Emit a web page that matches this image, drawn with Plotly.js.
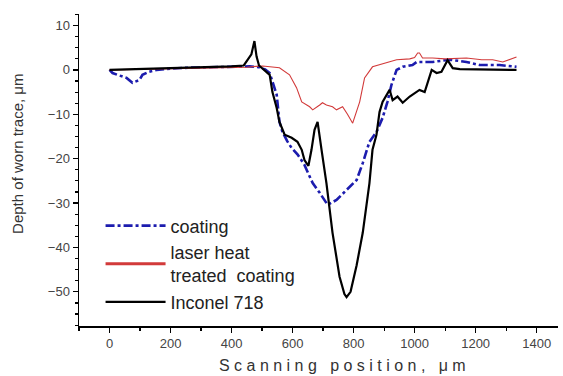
<!DOCTYPE html>
<html>
<head>
<meta charset="utf-8">
<script src="https://cdn.plot.ly/plotly-3.0.1.min.js"></script>
<style>html,body{margin:0;padding:0;background:#fff;}#chart{width:563px;height:376px;}</style>
</head>
<body>
<div id="chart"></div>
<script>
const coatingX = [0, 10, 30, 56, 75, 98, 108, 130, 154, 200, 260, 320, 370, 420, 459, 490, 510, 525, 534, 548, 557, 567, 582, 597, 616, 639, 646, 666, 689, 715, 744, 777, 810, 830, 843, 852, 875, 895, 911, 924, 941, 961, 993, 1007, 1059, 1115, 1170, 1213, 1279, 1334];
const coatingY = [0, -0.7, -1.2, -1.8, -2.9, -2.3, -1.1, -0.4, 0, 0.3, 0.5, 0.6, 0.7, 0.8, 0.8, 0.6, 0.1, -0.7, -2.7, -5.6, -11.7, -14, -16, -17.6, -19, -21.4, -22.5, -25.5, -27.7, -30.4, -29.3, -27, -24.8, -21, -18, -16.2, -14, -10.8, -7.2, -3.4, 0, 0.7, 1.1, 1.8, 1.8, 2.3, 1.8, 1.1, 1.1, 0.7];

const laserX = [0, 100, 200, 300, 400, 450, 480, 502, 557, 590, 613, 630, 656, 666, 689, 698, 711, 731, 744, 764, 780, 797, 820, 836, 862, 908, 941, 984, 1000, 1010, 1016, 1026, 1059, 1100, 1170, 1220, 1256, 1289, 1334];
const laserY = [0, 0.2, 0.3, 0.4, 0.5, 0.6, 0.8, 0.9, 0.5, -1.1, -4, -7.2, -8.3, -9, -7.9, -7.4, -7.9, -8.3, -9, -8.3, -10, -12, -7.2, -1.8, 0.7, 1.6, 2.3, 2.5, 2.8, 3.8, 3.8, 2.7, 2.7, 2.5, 2.7, 2.3, 2.3, 1.8, 2.9];

const inconelX = [0, 100, 200, 300, 400, 440, 455, 465, 475, 482, 490, 498, 525, 534, 548, 557, 574, 597, 616, 630, 639, 652, 662, 672, 682, 695, 711, 731, 754, 770, 777, 790, 800, 810, 830, 852, 862, 875, 885, 895, 918, 928, 944, 961, 984, 1016, 1033, 1056, 1072, 1088, 1108, 1125, 1148, 1200, 1260, 1334];
const inconelY = [0, 0.2, 0.3, 0.5, 0.8, 1, 2.5, 3.5, 6.5, 3, 1, 0.5, -1.1, -5, -8.6, -11.7, -14.6, -15.3, -16.2, -18, -20.3, -21.6, -18, -13.5, -11.7, -18, -25.5, -36.7, -46.6, -50.5, -51.2, -50, -47, -44, -36.7, -25.5, -18, -14.6, -9.5, -7.2, -4.5, -6.8, -6, -7.4, -6, -4.5, -5, 0, -0.7, -0.4, 2.2, 0.4, 0.2, 0.1, 0, 0];

const data = [
  {x: coatingX, y: coatingY, name: 'coating', mode: 'lines',
   line: {color: '#1c1cae', width: 2.6, dash: 'dashdot'}},
  {x: laserX, y: laserY, name: 'laser heat<br>treated  coating', mode: 'lines',
   line: {color: '#d23a3a', width: 1.1}},
  {x: inconelX, y: inconelY, name: 'Inconel 718', mode: 'lines',
   line: {color: '#000000', width: 2.2}}
];

const layout = {
  width: 563, height: 376,
  margin: {l: 79, r: 5, t: 14, b: 50},
  paper_bgcolor: '#fff', plot_bgcolor: '#fff',
  font: {family: 'Liberation Sans, Arial, sans-serif', color: '#333'},
  showlegend: true,
  legend: {x: 0.045, y: 0.38, xanchor: 'left', yanchor: 'top', bgcolor: 'rgba(0,0,0,0)',
           font: {size: 18, color: '#222'}, valign: 'middle', tracegroupgap: 0, itemwidth: 60},
  annotations: [
    {text: 'Depth of worn trace, μm', xref: 'paper', yref: 'paper', x: 0, y: 0.55,
     xshift: -72, textangle: -90, showarrow: false, font: {size: 15, color: '#333'}},
    {text: 'S c a n n i n g   p o s i t i o n ,   μ m', xref: 'paper', yref: 'paper', x: 0.55, y: 0,
     yshift: -39, yanchor: 'middle', showarrow: false, font: {size: 16, color: '#333'}}
  ],
  xaxis: {
    range: [-100, 1470], showgrid: false, zeroline: false,
    showline: true, linecolor: '#000', linewidth: 1.5,
    ticks: 'outside', ticklen: 5, tickcolor: '#000', tickwidth: 1.2,
    tick0: 0, dtick: 200,
    minor: {dtick: 100, ticks: 'outside', ticklen: 3, tickcolor: '#000', showgrid: false},
    tickfont: {size: 13, color: '#444'}
  },
  yaxis: {
    range: [-57.7, 12.6], showgrid: false, zeroline: false,
    showline: true, linecolor: '#000', linewidth: 1.5,
    ticks: 'outside', ticklen: 5, tickcolor: '#000', tickwidth: 1.2,
    tick0: 0, dtick: 10,
    minor: {dtick: 2.5, ticks: 'outside', ticklen: 3, tickcolor: '#000', showgrid: false},
    tickfont: {size: 13, color: '#444'}
  }
};

Plotly.newPlot('chart', data, layout, {displayModeBar: false, staticPlot: true}).then(function (gd) {
  const items = gd.querySelectorAll('.legend .traces');
  if (items[1]) {
    const p = items[1].querySelector('.js-line');
    if (p) p.style.strokeWidth = '3px';
  }
});
</script>
</body>
</html>
